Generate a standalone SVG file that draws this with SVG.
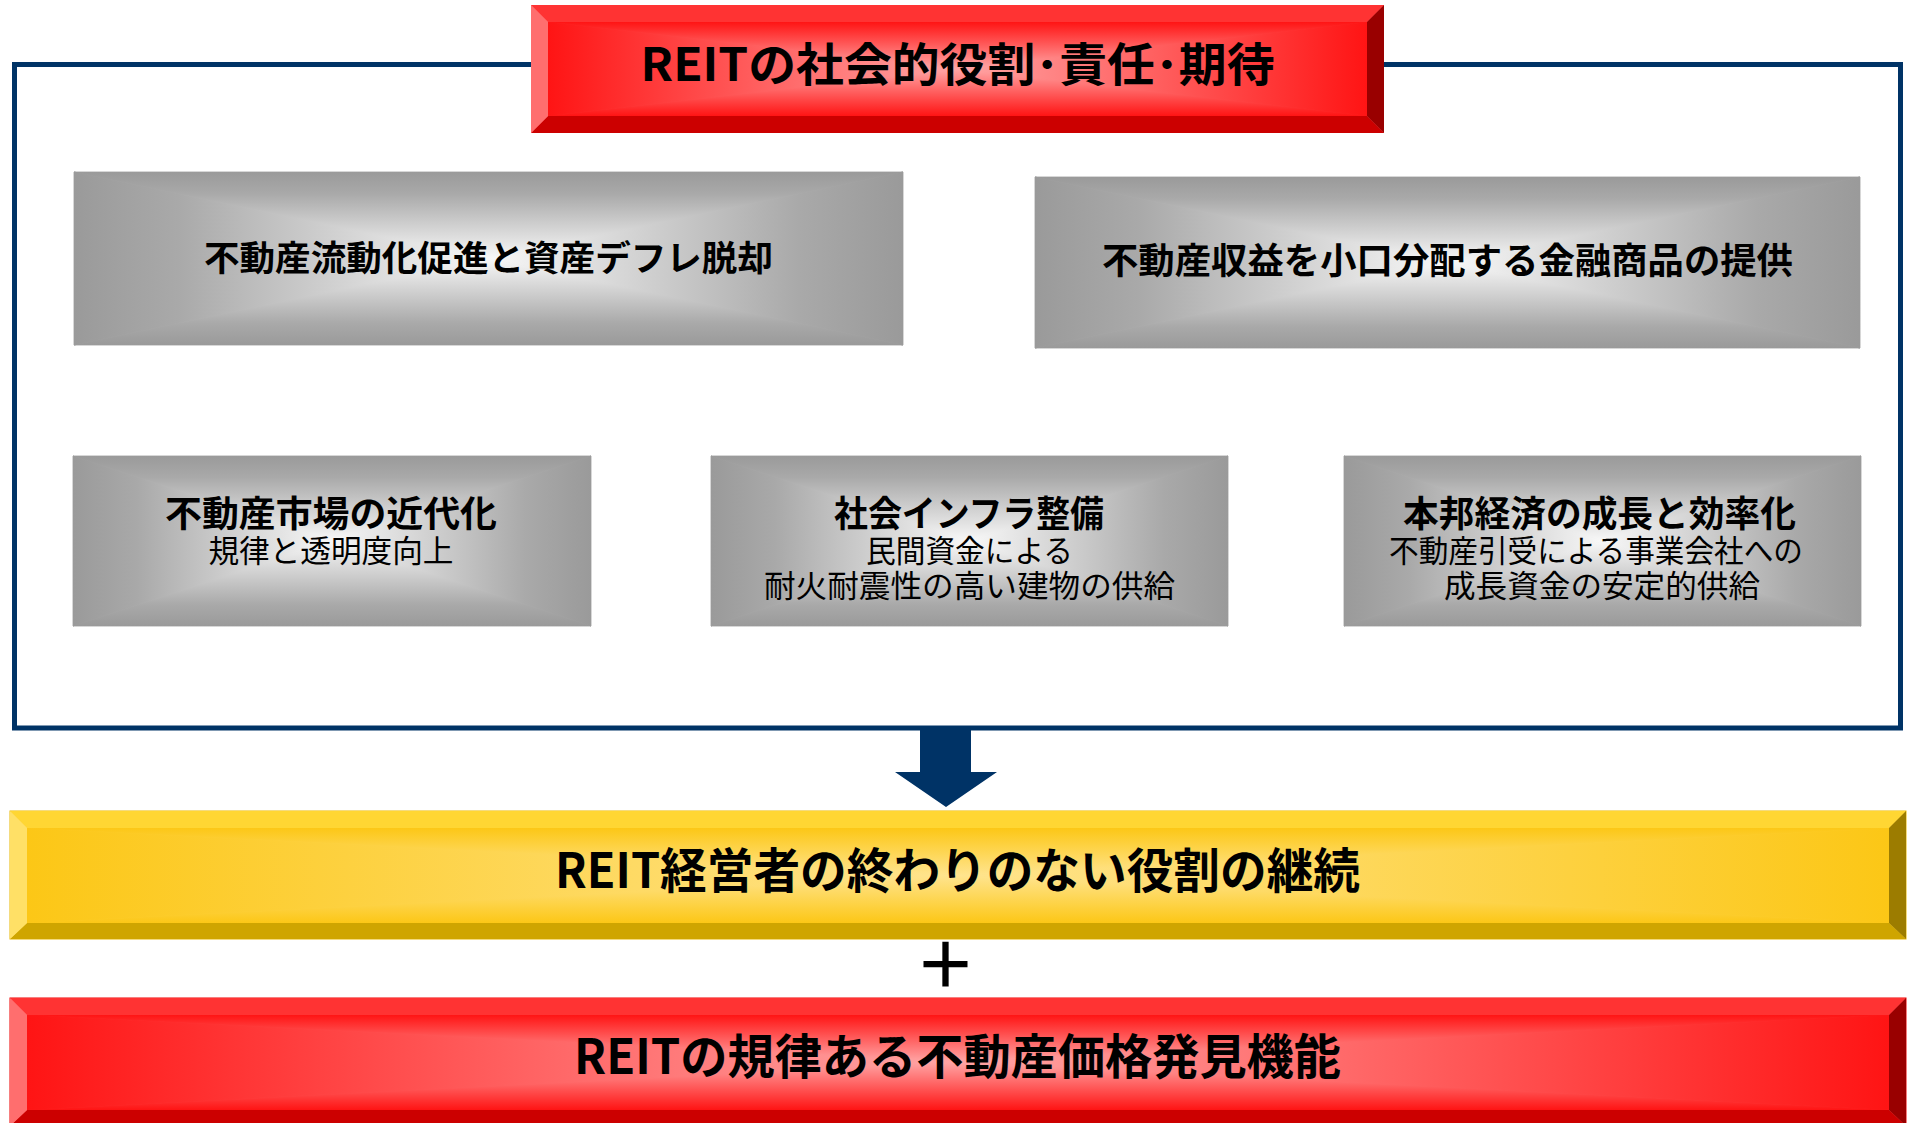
<svg xmlns="http://www.w3.org/2000/svg" width="1910" height="1123" viewBox="0 0 1910 1123">
<defs>
<linearGradient id="gyL" x1="0" y1="0" x2="1" y2="0"><stop offset="0" stop-color="#9a9a9a"/><stop offset="0.25" stop-color="#a9a9a9"/><stop offset="1" stop-color="#f8f8f8"/></linearGradient>
<linearGradient id="gyR" x1="1" y1="0" x2="0" y2="0"><stop offset="0" stop-color="#9a9a9a"/><stop offset="0.25" stop-color="#a9a9a9"/><stop offset="1" stop-color="#f8f8f8"/></linearGradient>
<linearGradient id="gyT" x1="0" y1="0" x2="0" y2="1"><stop offset="0" stop-color="#9a9a9a"/><stop offset="0.25" stop-color="#a9a9a9"/><stop offset="1" stop-color="#f8f8f8"/></linearGradient>
<linearGradient id="gyB" x1="0" y1="1" x2="0" y2="0"><stop offset="0" stop-color="#9a9a9a"/><stop offset="0.25" stop-color="#a9a9a9"/><stop offset="1" stop-color="#f8f8f8"/></linearGradient>
<linearGradient id="rdL" x1="0" y1="0" x2="1" y2="0"><stop offset="0" stop-color="#ff1414"/><stop offset="1" stop-color="#ffa6a6"/></linearGradient>
<linearGradient id="rdR" x1="1" y1="0" x2="0" y2="0"><stop offset="0" stop-color="#ff1414"/><stop offset="1" stop-color="#ffa6a6"/></linearGradient>
<linearGradient id="rdT" x1="0" y1="0" x2="0" y2="1"><stop offset="0" stop-color="#ff1414"/><stop offset="1" stop-color="#ffa6a6"/></linearGradient>
<linearGradient id="rdB" x1="0" y1="1" x2="0" y2="0"><stop offset="0" stop-color="#ff1414"/><stop offset="1" stop-color="#ffa6a6"/></linearGradient>
<linearGradient id="ylL" x1="0" y1="0" x2="1" y2="0"><stop offset="0" stop-color="#fcc716"/><stop offset="1" stop-color="#ffe48e"/></linearGradient>
<linearGradient id="ylR" x1="1" y1="0" x2="0" y2="0"><stop offset="0" stop-color="#fcc716"/><stop offset="1" stop-color="#ffe48e"/></linearGradient>
<linearGradient id="ylT" x1="0" y1="0" x2="0" y2="1"><stop offset="0" stop-color="#fcc716"/><stop offset="1" stop-color="#ffe48e"/></linearGradient>
<linearGradient id="ylB" x1="0" y1="1" x2="0" y2="0"><stop offset="0" stop-color="#fcc716"/><stop offset="1" stop-color="#ffe48e"/></linearGradient>
</defs>
<style>
.gyL{fill:url(#gyL);stroke:url(#gyL)}.gyR{fill:url(#gyR);stroke:url(#gyR)}.gyT{fill:url(#gyT);stroke:url(#gyT)}.gyB{fill:url(#gyB);stroke:url(#gyB)}
.rdL{fill:url(#rdL);stroke:url(#rdL)}.rdR{fill:url(#rdR);stroke:url(#rdR)}.rdT{fill:url(#rdT);stroke:url(#rdT)}.rdB{fill:url(#rdB);stroke:url(#rdB)}
.ylL{fill:url(#ylL);stroke:url(#ylL)}.ylR{fill:url(#ylR);stroke:url(#ylR)}.ylT{fill:url(#ylT);stroke:url(#ylT)}.ylB{fill:url(#ylB);stroke:url(#ylB)}
polygon{stroke-width:0.8;stroke-linejoin:round}
.gybase{fill:#c4c4c4}
.r-top{fill:#ff3333;stroke:none}.r-left{fill:#ff6e6e;stroke:none}.r-right{fill:#990000;stroke:none}.r-bot{fill:#cc0000;stroke:none}.r-base{fill:#ff5a5a}
.y-top{fill:#ffd633;stroke:none}.y-left{fill:#ffe066;stroke:none}.y-right{fill:#9c7c00;stroke:none}.y-bot{fill:#cfa500;stroke:none}.y-base{fill:#fdd450}
.t{font-family:"Noto Sans CJK JP","Noto Sans",sans-serif;fill:#000;text-anchor:middle}
.b{font-weight:700}
.n{font-weight:400}
.frame{fill:none;stroke:#003366;stroke-width:5}
.navy{fill:#003366;stroke:none}
</style>
<rect width="1910" height="1123" fill="#ffffff"/>
<g id="frame">
<rect class="frame" x="14.5" y="64.5" width="1886" height="663.5"/>
</g>
<g id="title">
<rect class="r-base" x="531" y="5" width="853" height="128"/>
<polygon class="rdT" points="548,22 1367,22 957.5,69"/>
<polygon class="rdB" points="548,116 1367,116 957.5,69"/>
<polygon class="rdL" points="548,22 548,116 957.5,69"/>
<polygon class="rdR" points="1367,22 1367,116 957.5,69"/>
<polygon class="r-top" points="531,5 1384,5 1367,22 548,22"/>
<polygon class="r-bot" points="531,133 1384,133 1367,116 548,116"/>
<polygon class="r-left" points="531,5 548,22 548,116 531,133"/>
<polygon class="r-right" points="1384,5 1367,22 1367,116 1384,133"/>
<text class="t b" x="957.5" y="81" font-size="46" textLength="634" lengthAdjust="spacingAndGlyphs">REITの社会的役割･責任･期待</text>
</g>
<g id="boxA">
<rect class="gybase" x="74" y="172" width="829" height="173"/>
<polygon class="gyT" points="74,172 903,172 488.5,258.5"/>
<polygon class="gyB" points="74,345 903,345 488.5,258.5"/>
<polygon class="gyL" points="74,172 74,345 488.5,258.5"/>
<polygon class="gyR" points="903,172 903,345 488.5,258.5"/>
<text class="t b" x="488.5" y="271" font-size="35" textLength="569" lengthAdjust="spacingAndGlyphs">不動産流動化促進と資産デフレ脱却</text>
</g>
<g id="boxB">
<rect class="gybase" x="1035" y="177" width="825" height="171"/>
<polygon class="gyT" points="1035,177 1860,177 1447.5,262.5"/>
<polygon class="gyB" points="1035,348 1860,348 1447.5,262.5"/>
<polygon class="gyL" points="1035,177 1035,348 1447.5,262.5"/>
<polygon class="gyR" points="1860,177 1860,348 1447.5,262.5"/>
<text class="t b" x="1447.5" y="274" font-size="36" textLength="691" lengthAdjust="spacingAndGlyphs">不動産収益を小口分配する金融商品の提供</text>
</g>
<g id="boxC">
<rect class="gybase" x="73" y="456" width="518" height="170"/>
<polygon class="gyT" points="73,456 591,456 332,541"/>
<polygon class="gyB" points="73,626 591,626 332,541"/>
<polygon class="gyL" points="73,456 73,626 332,541"/>
<polygon class="gyR" points="591,456 591,626 332,541"/>
<text class="t"><tspan class="b" x="331" y="527" font-size="36" textLength="332" lengthAdjust="spacingAndGlyphs">不動産市場の近代化</tspan><tspan class="n" x="331" y="562" font-size="31" textLength="245" lengthAdjust="spacingAndGlyphs">規律と透明度向上</tspan></text>
</g>
<g id="boxD">
<rect class="gybase" x="711" y="456" width="517" height="170"/>
<polygon class="gyT" points="711,456 1228,456 969.5,541"/>
<polygon class="gyB" points="711,626 1228,626 969.5,541"/>
<polygon class="gyL" points="711,456 711,626 969.5,541"/>
<polygon class="gyR" points="1228,456 1228,626 969.5,541"/>
<text class="t"><tspan class="b" x="969" y="527" font-size="36" textLength="270" lengthAdjust="spacingAndGlyphs">社会インフラ整備</tspan><tspan class="n" x="969.5" y="562" font-size="31" textLength="207" lengthAdjust="spacingAndGlyphs">民間資金による</tspan><tspan class="n" x="969.5" y="597" font-size="31" textLength="411" lengthAdjust="spacingAndGlyphs">耐火耐震性の高い建物の供給</tspan></text>
</g>
<g id="boxE">
<rect class="gybase" x="1344" y="456" width="517" height="170"/>
<polygon class="gyT" points="1344,456 1861,456 1602.5,541"/>
<polygon class="gyB" points="1344,626 1861,626 1602.5,541"/>
<polygon class="gyL" points="1344,456 1344,626 1602.5,541"/>
<polygon class="gyR" points="1861,456 1861,626 1602.5,541"/>
<text class="t"><tspan class="b" x="1599.5" y="527" font-size="36" textLength="393" lengthAdjust="spacingAndGlyphs">本邦経済の成長と効率化</tspan><tspan class="n" x="1596" y="562" font-size="31" textLength="414" lengthAdjust="spacingAndGlyphs">不動産引受による事業会社への</tspan><tspan class="n" x="1602" y="597" font-size="31" textLength="316" lengthAdjust="spacingAndGlyphs">成長資金の安定的供給</tspan></text>
</g>
<g id="connectors">
<polygon class="navy" points="920,728 971,728 971,772 997,772 946,807 895,772 920,772"/>
</g>
<g id="continuation">
<rect class="y-base" x="10" y="811" width="1896" height="128" stroke="#eab700" stroke-width="1"/>
<polygon class="ylT" points="27,828 1889,828 958,875.5"/>
<polygon class="ylB" points="27,923 1889,923 958,875.5"/>
<polygon class="ylL" points="27,828 27,923 958,875.5"/>
<polygon class="ylR" points="1889,828 1889,923 958,875.5"/>
<polygon class="y-top" points="10,811 1906,811 1889,828 27,828"/>
<polygon class="y-bot" points="10,939 1906,939 1889,923 27,923"/>
<polygon class="y-left" points="10,811 27,828 27,923 10,939"/>
<polygon class="y-right" points="1906,811 1889,828 1889,923 1906,939"/>
<text class="t b" x="957.5" y="888" font-size="48" textLength="805" lengthAdjust="spacingAndGlyphs">REIT経営者の終わりのない役割の継続</text>
</g>
<g id="plus">
<text class="t b" x="945.5" y="988" font-size="62">＋</text>
</g>
<g id="discovery">
<rect class="r-base" x="10" y="998" width="1896" height="128" stroke="#ee0000" stroke-width="1"/>
<polygon class="rdT" points="27,1015 1889,1015 958,1062"/>
<polygon class="rdB" points="27,1110 1889,1110 958,1062"/>
<polygon class="rdL" points="27,1015 27,1110 958,1062"/>
<polygon class="rdR" points="1889,1015 1889,1110 958,1062"/>
<polygon class="r-top" points="10,998 1906,998 1889,1015 27,1015"/>
<polygon class="r-bot" points="10,1126 1906,1126 1889,1110 27,1110"/>
<polygon class="r-left" points="10,998 27,1015 27,1110 10,1126"/>
<polygon class="r-right" points="1906,998 1889,1015 1889,1110 1906,1126"/>
<text class="t b" x="957.5" y="1074" font-size="48" textLength="767" lengthAdjust="spacingAndGlyphs">REITの規律ある不動産価格発見機能</text>
</g>
</svg>
